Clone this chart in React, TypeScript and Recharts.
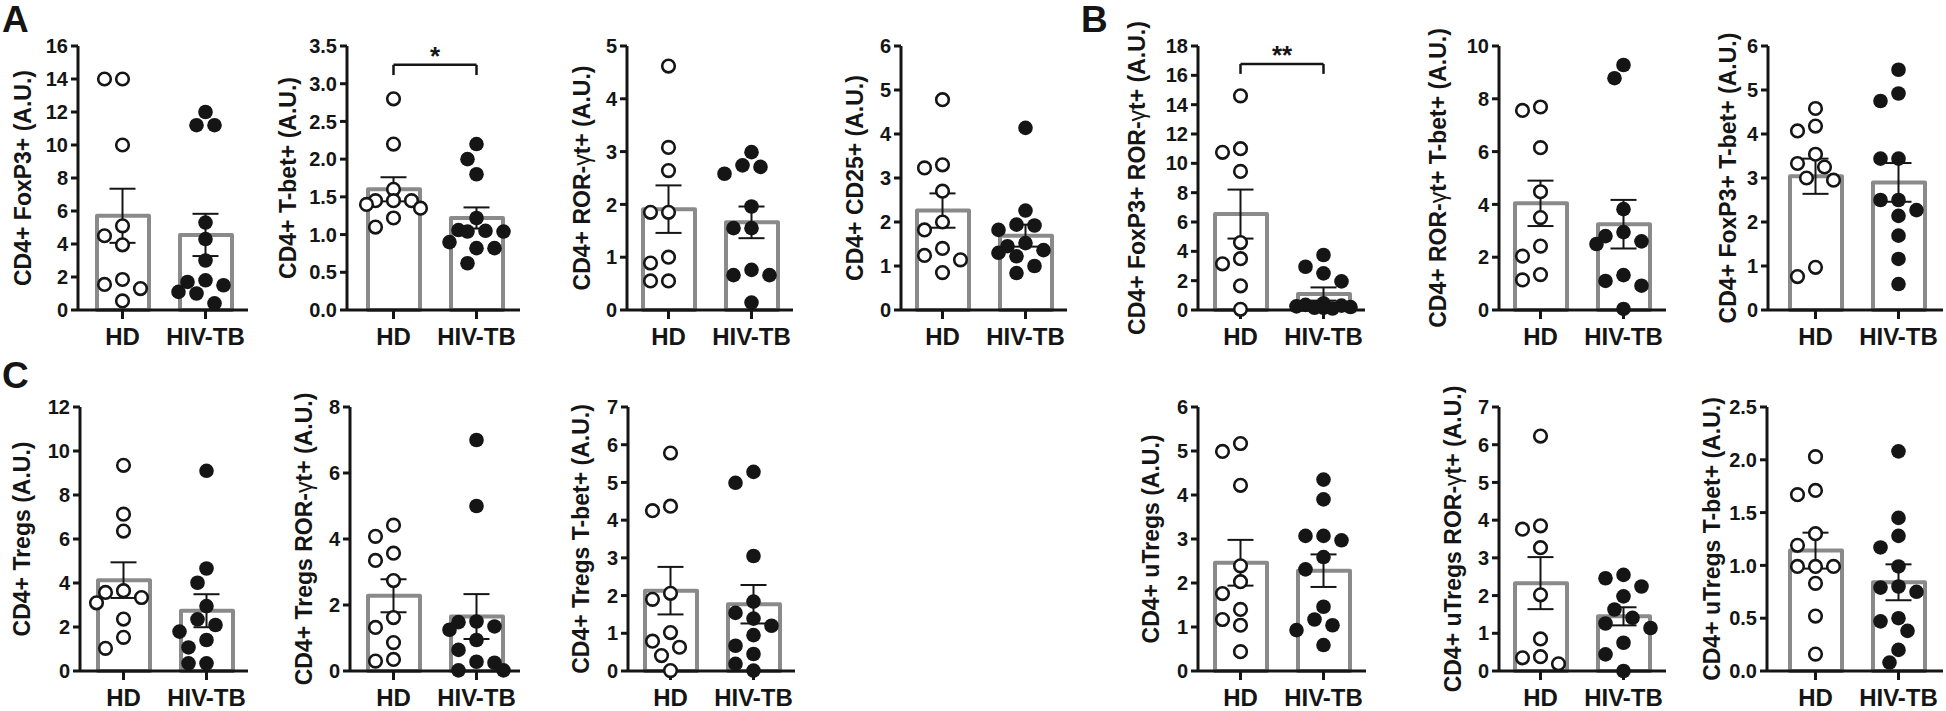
import React from "react";
import {
  ComposedChart, Bar, Scatter, XAxis, YAxis, ErrorBar, ReferenceLine
} from "recharts";

// ---- data ----
const GROUPS = ["HD", "HIV-TB"];

// A
const foxp3HD = [14.0, 14.0, 10.0, 5.1, 4.5, 3.95, 1.85, 1.55, 1.3, 0.55];
const foxp3TB = [12.0, 11.2, 11.2, 5.3, 4.3, 3.0, 1.8, 1.7, 1.5, 1.1, 1.0, 0.4];
const foxp3Mean = [5.71, 4.55];
const foxp3Sem = [1.64, 1.28];
const foxp3Ticks = [0, 2, 4, 6, 8, 10, 12, 14, 16];

const tbetHD = [2.8, 2.2, 1.6, 1.45, 1.45, 1.45, 1.4, 1.35, 1.22, 1.1];
const tbetTB = [2.2, 2.0, 1.8, 1.22, 1.06, 1.05, 1.04, 1.04, 0.9, 0.82, 0.82, 0.62];
const tbetMean = [1.6, 1.22];
const tbetSem = [0.16, 0.14];
const tbetTicks = [0, 0.5, 1, 1.5, 2, 2.5, 3, 3.5];
const tbetSig = [3.25, 3.115];

const rorgtHD = [4.62, 3.08, 2.64, 1.85, 1.85, 1.0, 0.89, 0.55, 0.55];
const rorgtTB = [2.99, 2.74, 2.71, 2.58, 1.96, 1.55, 1.55, 0.76, 0.66, 0.66, 0.14];
const rorgtMean = [1.91, 1.66];
const rorgtSem = [0.45, 0.3];
const rorgtTicks = [0, 1, 2, 3, 4, 5];

const cd25HD = [4.78, 3.3, 3.23, 2.7, 2.0, 1.82, 1.4, 1.24, 1.14, 0.85];
const cd25TB = [4.14, 2.26, 1.94, 1.92, 1.82, 1.52, 1.45, 1.36, 1.3, 1.22, 1.0, 0.84];
const cd25Mean = [2.26, 1.69];
const cd25Sem = [0.39, 0.25];
const cd25Ticks = [0, 1, 2, 3, 4, 5, 6];

// B
const fxRorHD = [14.6, 11.0, 10.75, 9.45, 4.6, 3.5, 3.15, 1.65, 0.05];
const fxRorTB = [3.75, 2.95, 2.5, 1.95, 0.45, 0.35, 0.3, 0.25, 0.2, 0.15, 0.15, 0.1];
const fxRorMean = [6.54, 1.09];
const fxRorSem = [1.67, 0.45];
const fxRorTicks = [0, 2, 4, 6, 8, 10, 12, 14, 16, 18];
const fxRorSig = [16.77, 16.1];

const rorTbHD = [7.69, 7.56, 6.15, 4.48, 3.5, 2.42, 2.04, 1.34, 1.14];
const rorTbTB = [9.28, 8.78, 3.82, 2.95, 2.8, 2.6, 2.5, 1.32, 1.1, 0.92, 0.04];
const rorTbMean = [4.04, 3.25];
const rorTbSem = [0.86, 0.92];
const rorTbTicks = [0, 2, 4, 6, 8, 10];

const fxTbHD = [4.58, 4.18, 4.07, 3.54, 3.33, 3.25, 3.0, 2.95, 0.97, 0.76];
const fxTbTB = [5.46, 4.92, 4.75, 3.44, 3.44, 2.5, 2.5, 2.27, 2.14, 1.69, 1.16, 0.59];
const fxTbMean = [3.04, 2.9];
const fxTbSem = [0.4, 0.44];
const fxTbTicks = [0, 1, 2, 3, 4, 5, 6];

const uTregHD = [5.17, 4.99, 4.22, 2.39, 2.03, 1.76, 1.4, 1.17, 1.04, 0.44];
const uTregTB = [4.35, 3.9, 3.07, 3.07, 2.97, 2.59, 2.31, 1.46, 1.17, 1.04, 0.93, 0.59];
const uTregMean = [2.46, 2.28];
const uTregSem = [0.52, 0.37];
const uTregTicks = [0, 1, 2, 3, 4, 5, 6];

const uRorHD = [6.23, 3.85, 3.76, 3.27, 2.02, 0.85, 0.38, 0.35, 0.19];
const uRorTB = [2.55, 2.46, 2.24, 1.98, 1.63, 1.41, 1.26, 1.14, 0.75, 0.44, 0.0];
const uRorMean = [2.33, 1.45];
const uRorSem = [0.69, 0.24];
const uRorTicks = [0, 1, 2, 3, 4, 5, 6, 7];

const uTbHD = [2.03, 1.71, 1.67, 1.3, 1.19, 0.99, 0.99, 0.99, 0.83, 0.52, 0.16];
const uTbTB = [2.08, 1.45, 1.28, 1.17, 0.99, 0.8, 0.79, 0.75, 0.5, 0.47, 0.38, 0.2, 0.08];
const uTbMean = [1.14, 0.84];
const uTbSem = [0.17, 0.17];
const uTbTicks = [0, 0.5, 1, 1.5, 2, 2.5];

// C
const tregHD = [9.35, 7.13, 6.36, 3.65, 3.57, 3.34, 3.1, 2.36, 1.53, 1.03];
const tregTB = [9.1, 4.66, 4.01, 2.95, 2.35, 2.09, 1.79, 1.41, 1.07, 0.35, 0.35];
const tregMean = [4.13, 2.74];
const tregSem = [0.81, 0.75];
const tregTicks = [0, 2, 4, 6, 8, 10, 12];

const tRorHD = [4.42, 4.08, 3.57, 3.35, 2.74, 1.62, 1.32, 0.86, 0.35, 0.3];
const tRorTB = [7.0, 5.0, 1.5, 1.48, 1.35, 1.25, 0.94, 0.64, 0.28, 0.25, 0.02, 0.02];
const tRorMean = [2.28, 1.65];
const tRorSem = [0.5, 0.68];
const tRorTicks = [0, 2, 4, 6, 8];

const tTbHD = [5.78, 4.37, 4.25, 2.06, 1.9, 1.02, 0.79, 0.63, 0.41, 0.01];
const tTbTB = [5.28, 4.99, 3.05, 1.84, 1.54, 1.39, 1.2, 0.95, 0.67, 0.45, 0.19, 0.01];
const tTbMean = [2.13, 1.77];
const tTbSem = [0.63, 0.51];
const tTbTicks = [0, 1, 2, 3, 4, 5, 6, 7];

// ---- look ----
const FONT = '"Liberation Sans", Arial, Helvetica, sans-serif';
const INK = "#151515";
const BAR_GREY = "#8a8a8a";
const Y_W = 90;
const M_TOP = 33;
const PLOT_H = 264;
const X_H = 40;
const BAND = 83;
const ROW_TOP = [46, 407];

const panels = [
  { id: "a1", title: "CD4+ FoxP3+ (A.U.)", hd: foxp3HD, tb: foxp3TB, mean: foxp3Mean, sem: foxp3Sem, ticks: foxp3Ticks, dec: 0 },
  { id: "a2", title: "CD4+ T-bet+ (A.U.)", hd: tbetHD, tb: tbetTB, mean: tbetMean, sem: tbetSem, ticks: tbetTicks, dec: 1, sig: tbetSig, star: "*" },
  { id: "a3", title: "CD4+ ROR-γt+ (A.U.)", hd: rorgtHD, tb: rorgtTB, mean: rorgtMean, sem: rorgtSem, ticks: rorgtTicks, dec: 0 },
  { id: "a4", title: "CD4+ CD25+ (A.U.)", hd: cd25HD, tb: cd25TB, mean: cd25Mean, sem: cd25Sem, ticks: cd25Ticks, dec: 0 },
  { id: "b1", title: "CD4+ FoxP3+ ROR-γt+ (A.U.)", hd: fxRorHD, tb: fxRorTB, mean: fxRorMean, sem: fxRorSem, ticks: fxRorTicks, dec: 0, sig: fxRorSig, star: "**" },
  { id: "b2", title: "CD4+ ROR-γt+ T-bet+ (A.U.)", hd: rorTbHD, tb: rorTbTB, mean: rorTbMean, sem: rorTbSem, ticks: rorTbTicks, dec: 0 },
  { id: "b3", title: "CD4+ FoxP3+ T-bet+ (A.U.)", hd: fxTbHD, tb: fxTbTB, mean: fxTbMean, sem: fxTbSem, ticks: fxTbTicks, dec: 0 },
  { id: "c1", title: "CD4+ Tregs (A.U.)", hd: tregHD, tb: tregTB, mean: tregMean, sem: tregSem, ticks: tregTicks, dec: 0 },
  { id: "c2", title: "CD4+ Tregs ROR-γt+ (A.U.)", hd: tRorHD, tb: tRorTB, mean: tRorMean, sem: tRorSem, ticks: tRorTicks, dec: 0 },
  { id: "c3", title: "CD4+ Tregs T-bet+ (A.U.)", hd: tTbHD, tb: tTbTB, mean: tTbMean, sem: tTbSem, ticks: tTbTicks, dec: 0 },
  { id: "b4", title: "CD4+ uTregs (A.U.)", hd: uTregHD, tb: uTregTB, mean: uTregMean, sem: uTregSem, ticks: uTregTicks, dec: 0 },
  { id: "b5", title: "CD4+ uTregs ROR-γt+ (A.U.)", hd: uRorHD, tb: uRorTB, mean: uRorMean, sem: uRorSem, ticks: uRorTicks, dec: 0 },
  { id: "b6", title: "CD4+ uTregs T-bet+ (A.U.)", hd: uTbHD, tb: uTbTB, mean: uTbMean, sem: uTbSem, ticks: uTbTicks, dec: 1 },
];

// where each panel's y axis sits, its plot width, left pad and title distance
const layout: Record<string, { x: number; row: number; padL: number; w: number; tdx: number }> = {
  a1: { x: 78, row: 0, padL: 3, w: 170, tdx: -55 },
  a2: { x: 347, row: 0, padL: 5, w: 173, tdx: -59 },
  a3: { x: 627, row: 0, padL: 0, w: 166, tdx: -45 },
  a4: { x: 901, row: 0, padL: 0, w: 166, tdx: -46 },
  b1: { x: 1198, row: 0, padL: 1, w: 167, tdx: -61 },
  b2: { x: 1499, row: 0, padL: 0, w: 167, tdx: -61 },
  b3: { x: 1768, row: 0, padL: 6, w: 175, tdx: -40 },
  c1: { x: 80, row: 1, padL: 2, w: 168, tdx: -58 },
  c2: { x: 350, row: 1, padL: 2, w: 170, tdx: -46 },
  c3: { x: 628, row: 1, padL: 1, w: 167, tdx: -47 },
  b4: { x: 1198, row: 1, padL: 1, w: 168, tdx: -47 },
  b5: { x: 1499, row: 1, padL: 0, w: 167, tdx: -46 },
  b6: { x: 1767, row: 1, padL: 7, w: 176, tdx: -55 },
};

// simple beeswarm so dots at similar heights spread sideways (pixel space)
function swarm(vals: number[], pxPerUnit: number, bandPx: number) {
  const D = 15.5;
  const STEP = 9;
  const cands = [0, -STEP, STEP, -2 * STEP, 2 * STEP, -3 * STEP, 3 * STEP];
  const order = vals.map((_, i) => i).sort((a, b) => vals[b] - vals[a]);
  const placed: [number, number][] = [];
  const out = vals.map(() => 0);
  order.forEach((i) => {
    const y = vals[i] * pxPerUnit;
    let best = 0;
    let bestCost = Infinity;
    for (const c of cands) {
      let cost = 0;
      placed.forEach(([px, py]) => {
        const d = Math.hypot(px - c, py - y);
        if (d < D) cost += D - d;
      });
      if (cost < bestCost - 1e-6) {
        bestCost = cost;
        best = c;
      }
      if (cost === 0) break;
    }
    placed.push([best, y]);
    out[i] = best / bandPx;
  });
  return out;
}

const OpenDot = (p: any) => (
  <circle cx={p.cx} cy={p.cy} r={6.3} fill="#fff" stroke={INK} strokeWidth={2.6} />
);
const FilledDot = (p: any) => <circle cx={p.cx} cy={p.cy} r={7.3} fill={INK} />;
const NoDot = () => <g />;

const AxisTitle = ({ cx, cy, text }: any) => {
  const parts = String(text).split("γ");
  return (
    <text
      x={cx}
      y={cy}
      transform={`rotate(-90 ${cx} ${cy})`}
      textAnchor="middle"
      dominantBaseline="central"
      fontFamily={FONT}
      fontSize={23}
      fontWeight={700}
      fill={INK}
    >
      {parts.map((s, i) => (
        <React.Fragment key={i}>
          {i > 0 && <tspan fontWeight={400}>γ</tspan>}
          <tspan>{s}</tspan>
        </React.Fragment>
      ))}
    </text>
  );
};

function Panel({ p }: { p: any }) {
  const L = layout[p.id];
  const top = ROW_TOP[L.row];
  const padR = L.w - L.padL - 2 * BAND;
  const yMax = p.ticks[p.ticks.length - 1];
  const ppu = PLOT_H / yMax;
  const offHD = swarm(p.hd, ppu, BAND);
  const offTB = swarm(p.tb, ppu, BAND);
  const openPts = p.hd.map((v: number, i: number) => ({ x: 0.5 + offHD[i], y: v }));
  const fillPts = p.tb.map((v: number, i: number) => ({ x: 1.5 + offTB[i], y: v }));
  const bars = GROUPS.map((g, i) => ({ name: g, y: p.mean[i], sem: p.sem[i] }));
  const meanPts = GROUPS.map((g, i) => ({ x: i + 0.5, y: p.mean[i], sem: p.sem[i] }));
  const chartW = Y_W + L.w + 4;
  const chartH = M_TOP + PLOT_H + X_H;
  const axisStyle = { stroke: INK, strokeWidth: 3 };

  return (
    <div style={{ position: "absolute", left: L.x - Y_W, top: top - M_TOP, overflow: "hidden" }}>
      <ComposedChart
        width={chartW}
        height={chartH}
        data={bars}
        margin={{ top: M_TOP, right: 4, bottom: 0, left: 0 }}
      >
        <XAxis
          xAxisId="cat"
          dataKey="name"
          type="category"
          height={X_H}
          padding={{ left: L.padL, right: padR }}
          axisLine={axisStyle}
          tickLine={axisStyle}
          tickSize={9}
          tickMargin={9}
          tick={{ fontSize: 24, fontWeight: 700, fill: INK, fontFamily: FONT }}
          interval={0}
        />
        <XAxis
          xAxisId="num"
          dataKey="x"
          type="number"
          domain={[0, 2]}
          allowDataOverflow
          hide
          padding={{ left: L.padL, right: padR }}
        />
        <YAxis
          dataKey="y"
          type="number"
          domain={[0, yMax]}
          ticks={p.ticks}
          interval={0}
          width={Y_W}
          tickSize={7}
          tickMargin={3}
          axisLine={axisStyle}
          tickLine={axisStyle}
          tick={{ fontSize: 20, fontWeight: 700, fill: INK, fontFamily: FONT }}
          tickFormatter={(v: number) => v.toFixed(p.dec)}
          label={<AxisTitle cx={Y_W + L.tdx} cy={M_TOP + PLOT_H / 2} text={p.title} />}
        />
        <Bar
          xAxisId="cat"
          dataKey="y"
          barSize={52}
          fill="#fff"
          stroke={BAR_GREY}
          strokeWidth={4}
          strokeLinejoin="round"
          isAnimationActive={false}
        />
        <Scatter xAxisId="num" data={openPts} shape={OpenDot} isAnimationActive={false} />
        <Scatter xAxisId="num" data={fillPts} shape={FilledDot} isAnimationActive={false} />
        <Scatter xAxisId="num" data={meanPts} shape={NoDot} isAnimationActive={false}>
          <ErrorBar dataKey="sem" direction="y" width={13} stroke={INK} strokeWidth={2} />
        </Scatter>
        {p.sig && (
          <ReferenceLine
            xAxisId="num"
            segment={[{ x: 0.5, y: p.sig[0] }, { x: 1.5, y: p.sig[0] }]}
            stroke={INK}
            strokeWidth={2.5}
            label={{ value: p.star, position: "top", offset: 0, fontSize: 26, fontWeight: 700, fill: INK, fontFamily: FONT }}
          />
        )}
        {p.sig && (
          <ReferenceLine
            xAxisId="num"
            segment={[{ x: 0.5, y: p.sig[0] }, { x: 0.5, y: p.sig[1] }]}
            stroke={INK}
            strokeWidth={2.5}
          />
        )}
        {p.sig && (
          <ReferenceLine
            xAxisId="num"
            segment={[{ x: 1.5, y: p.sig[0] }, { x: 1.5, y: p.sig[1] }]}
            stroke={INK}
            strokeWidth={2.5}
          />
        )}
      </ComposedChart>
    </div>
  );
}

export default function App() {
  return (
    <div
      style={{
        position: "absolute",
        left: 0,
        top: 0,
        width: 1946,
        height: 711,
        overflow: "hidden",
        background: "#fff",
        fontFamily: FONT,
      }}
    >
      {panels.map((p) => (
        <Panel key={p.id} p={p} />
      ))}
      <svg
        width={1946}
        height={711}
        style={{ position: "absolute", left: 0, top: 0, pointerEvents: "none" }}
      >
        <text x={2} y={32} fontFamily={FONT} fontSize={37} fontWeight={700} fill={INK}>A</text>
        <text x={1081} y={32} fontFamily={FONT} fontSize={37} fontWeight={700} fill={INK}>B</text>
        <text x={2} y={388} fontFamily={FONT} fontSize={37} fontWeight={700} fill={INK}>C</text>
      </svg>
    </div>
  );
}
